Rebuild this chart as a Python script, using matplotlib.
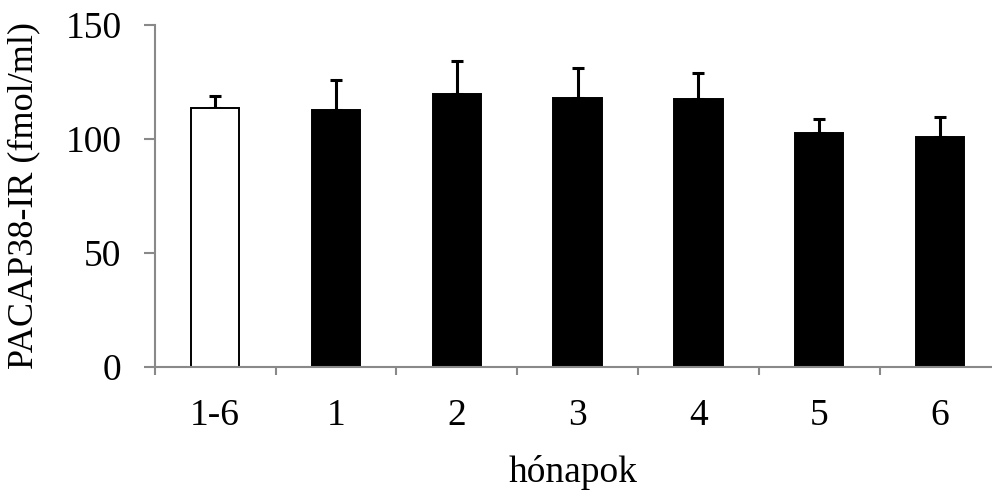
import numpy as np
import matplotlib.pyplot as plt

# PACAP38-IR mean values and upper SEM per month group
labels = ["1-6", "1", "2", "3", "4", "5", "6"]
means = [113.7, 112.6, 119.8, 118.1, 117.5, 102.5, 100.7]
sem_up = [5.0, 13.4, 14.3, 13.2, 11.6, 6.2, 9.0]
colors = ["white", "black", "black", "black", "black", "black", "black"]

plt.rcParams["font.family"] = ["Liberation Serif", "DejaVu Serif"]

fig = plt.figure(figsize=(9.92, 4.93), dpi=100)
ax = fig.add_axes([0.156, 0.256, 0.844, 0.693])

x = np.arange(len(labels))
ax.bar(x, means, width=0.40, color=colors, edgecolor="black", linewidth=1.4, zorder=2)
ax.errorbar(x, means, yerr=[np.zeros(len(means)), sem_up], fmt="none",
            ecolor="black", elinewidth=2.2, capsize=4.5, capthick=2.2, zorder=1)

axis_gray = "#898989"
ax.set_ylim(0, 150)
ax.set_yticks([0, 50, 100, 150])
ax.set_xlim(-0.5, 6.43)
ax.set_xticks(x)
ax.set_xticklabels(labels)
ax.set_xticks(np.arange(-0.5, 6.0, 1.0), minor=True)

for side in ["top", "right"]:
    ax.spines[side].set_visible(False)
for side in ["left", "bottom"]:
    ax.spines[side].set_color(axis_gray)
    ax.spines[side].set_linewidth(1.5)

fs = 27
ax.tick_params(axis="y", direction="out", length=8, width=1.5, color=axis_gray,
               labelsize=fs, pad=16)
ax.tick_params(axis="x", which="major", length=0, labelsize=fs, pad=23)
ax.tick_params(axis="x", which="minor", direction="out", length=6, width=1.5,
               color=axis_gray)

ax.set_ylabel("PACAP38-IR (fmol/ml)", fontsize=26, labelpad=18)
ax.set_xlabel("hónapok", fontsize=fs, labelpad=16)

fig.savefig("out.png", dpi=100)
